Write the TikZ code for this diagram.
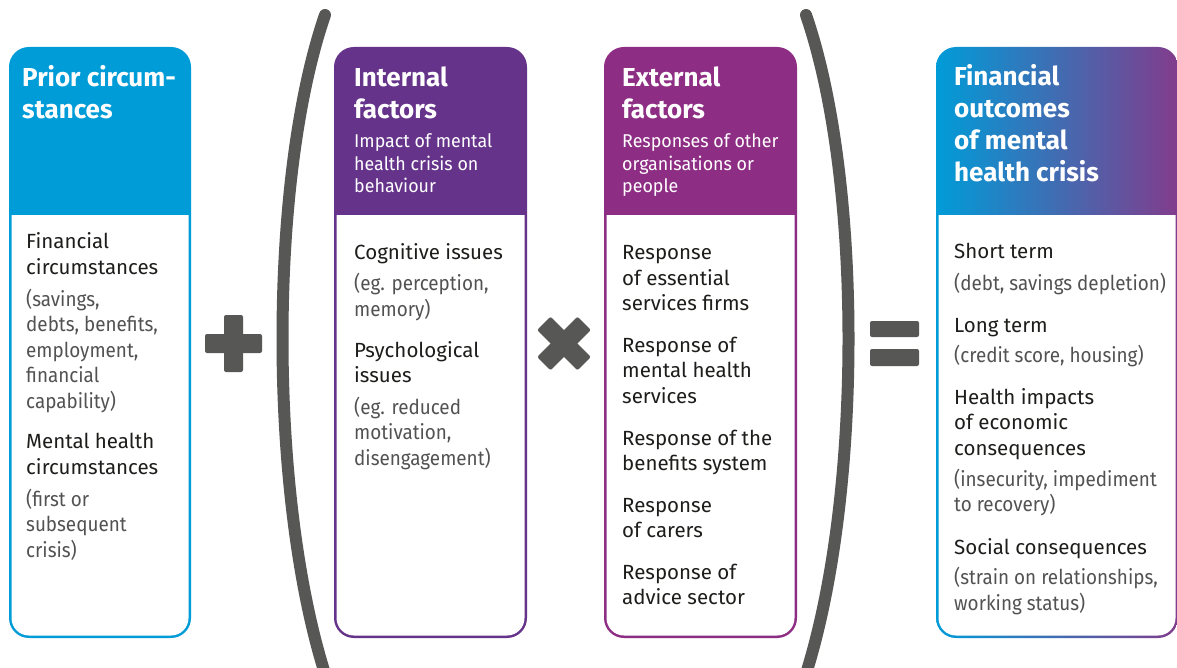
\documentclass[tikz,border=0pt]{standalone}
\usepackage{fontspec}
\setmainfont{Fira Sans}
\newfontfamily\lightf{Fira Sans}[FakeStretch=0.92]
\newfontfamily\subf{Fira Sans}[FakeStretch=0.965]
\definecolor{cblue}{RGB}{0,156,216}
\definecolor{cint}{RGB}{102,51,139}
\definecolor{cext}{RGB}{142,45,132}
\definecolor{cout}{RGB}{130,60,140}
\definecolor{sym}{RGB}{87,87,86}
\definecolor{tblack}{RGB}{29,29,27}
\definecolor{tgray}{RGB}{82,82,82}
\tikzset{
  head/.style={font=\fontsize{26}{31}\selectfont\bfseries, text=white, anchor=base west, inner sep=0pt},
  subh/.style={font=\subf\fontsize{18.5}{22}\selectfont, text=white, anchor=base west, inner sep=0pt},
  bt/.style={font=\fontsize{20.5}{25}\selectfont, text=tblack, anchor=base west, inner sep=0pt},
  bs/.style={font=\lightf\fontsize{20.5}{25}\selectfont, text=tgray, anchor=base west, inner sep=0pt},
  paren/.style={draw=sym, line width=12pt, line cap=round},
  symb/.style={fill=sym, rounded corners=2pt}
}
\begin{document}
\begin{tikzpicture}[x=1pt,y=-1pt]
\useasboundingbox (0,0) rectangle (1177,668);
\clip (0,0) rectangle (1177,668);
\fill[white] (0,0) rectangle (1177,668);
% ---- box 1
\fill[cblue, rounded corners=20pt] (9,47) rectangle (191,638);
\fill[white, rounded corners=17.5pt] (11.5,190) rectangle (188.5,635.5);
\fill[cblue] (9,170) rectangle (191,215);
% ---- box 2
\fill[cint, rounded corners=20pt] (334,47) rectangle (527,638);
\fill[white, rounded corners=17.5pt] (336.5,190) rectangle (524.5,635.5);
\fill[cint] (334,170) rectangle (527,215);
% ---- box 3
\fill[cext, rounded corners=20pt] (604,47) rectangle (797,638);
\fill[white, rounded corners=17.5pt] (606.5,190) rectangle (794.5,635.5);
\fill[cext] (604,170) rectangle (797,215);
% ---- box 4
\shade[left color=cblue, right color=cout, rounded corners=20pt] (936,47) rectangle (1178,638);
\fill[white, rounded corners=17.5pt] (938.5,190) rectangle (1175.5,635.5);
\shade[left color=cblue, right color=cout] (936,170) rectangle (1178,215);
% ---- parentheses
\draw[paren] (325,15) .. controls (268,180) and (268,500) .. (327,680);
\draw[paren] (806,15) .. controls (863,180) and (863,500) .. (804,680);
% ---- symbols
\fill[symb] (205,334) rectangle (262,353);
\fill[symb] (224,315) rectangle (243,372);
\begin{scope}[rotate around={45:(564,343.5)}]
\fill[symb] (535.5,334) rectangle (592.5,353);
\fill[symb] (554.5,315) rectangle (573.5,372);
\end{scope}
\fill[symb] (870,321) rectangle (919,337);
\fill[symb] (870,349) rectangle (919,366);
% ---- box 1 text
\node[head] (h1a) at (22,87) {Prior circum-};
\node[head] (h1b) at (22,118.5) {stances};
\node[bt] (a1) at (26,248) {Financial};
\node[bt] (a2) at (26,274) {circumstances};
\node[bs] (a3) at (26,306) {(savings,};
\node[bs] (a4) at (26,331.5) {debts, benefits,};
\node[bs] (a5) at (26,357) {employment,};
\node[bs] (a6) at (26,382.5) {financial};
\node[bs] (a7) at (26,408) {capability)};
\node[bt] (a8) at (26,448.5) {Mental health};
\node[bt] (a9) at (26,474) {circumstances};
\node[bs] (a10) at (26,506) {(first or};
\node[bs] (a11) at (26,531.5) {subsequent};
\node[bs] (a12) at (26,557) {crisis)};
% ---- box 2 text
\node[head] (h2a) at (354,87) {Internal};
\node[head] (h2b) at (354,118.5) {factors};
\node[subh] (s2a) at (354,148) {Impact of mental};
\node[subh] (s2b) at (354,170.5) {health crisis on};
\node[subh] (s2c) at (354,193) {behaviour};
\node[bt] (b1) at (354,259) {Cognitive issues};
\node[bs] (b2) at (354,290.5) {(eg. perception,};
\node[bs] (b3) at (354,316) {memory)};
\node[bt] (b4) at (354,357) {Psychological};
\node[bt] (b5) at (354,382.5) {issues};
\node[bs] (b6) at (354,414) {(eg. reduced};
\node[bs] (b7) at (354,439.5) {motivation,};
\node[bs] (b8) at (354,465) {disengagement)};
% ---- box 3 text
\node[head] (h3a) at (622,87) {External};
\node[head] (h3b) at (622,118.5) {factors};
\node[subh] (s3a) at (622,148) {Responses of other};
\node[subh] (s3b) at (622,170.5) {organisations or};
\node[subh] (s3c) at (622,193) {people};
\node[bt] (c1) at (622,259.5) {Response};
\node[bt] (c2) at (622,285) {of essential};
\node[bt] (c3) at (622,310) {services firms};
\node[bt] (c4) at (622,352) {Response of};
\node[bt] (c5) at (622,377.5) {mental health};
\node[bt] (c6) at (622,403) {services};
\node[bt] (c7) at (622,445) {Response of the};
\node[bt] (c8) at (622,470.5) {benefits system};
\node[bt] (c9) at (622,512) {Response};
\node[bt] (c10) at (622,537.5) {of carers};
\node[bt] (c11) at (622,579) {Response of};
\node[bt] (c12) at (622,604.5) {advice sector};
% ---- box 4 text
\node[head] (h4a) at (954,86) {Financial};
\node[head] (h4b) at (954,118) {outcomes};
\node[head] (h4c) at (954,150) {of mental};
\node[head] (h4d) at (954,182) {health crisis};
\node[bt] (d1) at (954,258.5) {Short term};
\node[bs] (d2) at (954,290) {(debt, savings depletion)};
\node[bt] (d3) at (954,332) {Long term};
\node[bs] (d4) at (954,362.5) {(credit score, housing)};
\node[bt] (d5) at (954,404) {Health impacts};
\node[bt] (d6) at (954,429.5) {of economic};
\node[bt] (d7) at (954,455) {consequences};
\node[bs] (d8) at (954,486) {(insecurity, impediment};
\node[bs] (d9) at (954,511.5) {to recovery)};
\node[bt] (d10) at (954,554) {Social consequences};
\node[bs] (d11) at (954,584.5) {(strain on relationships,};
\node[bs] (d12) at (954,610) {working status)};
\end{tikzpicture}
\end{document}
